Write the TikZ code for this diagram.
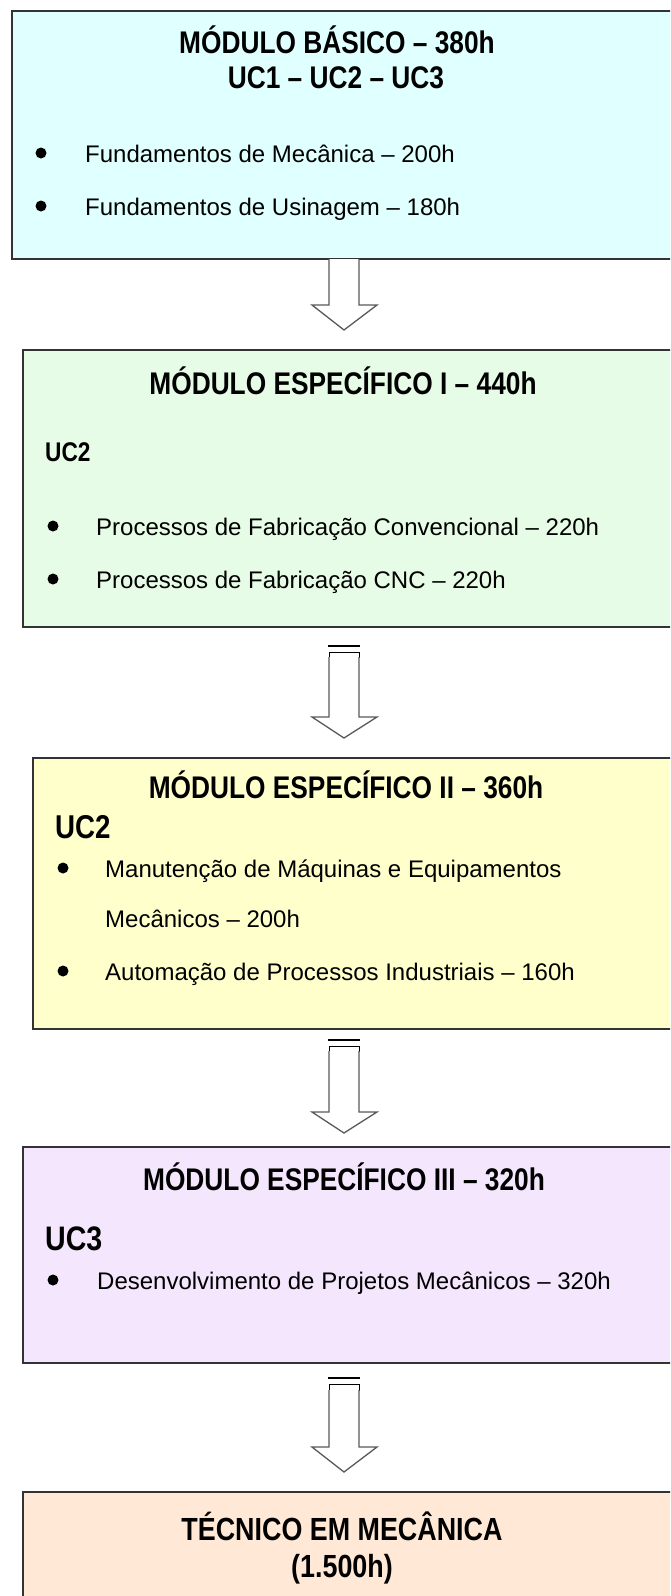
\documentclass[tikz,border=0pt]{standalone}
\usepackage{fontspec}
\setmainfont{Liberation Sans}
\newfontfamily\narrowfont{Liberation Sans}[FakeStretch=0.84]
\usetikzlibrary{calc}
\definecolor{cbasico}{HTML}{E0FFFF}
\definecolor{cespI}{HTML}{E6FCE6}
\definecolor{cespII}{HTML}{FFFFCC}
\definecolor{cespIII}{HTML}{F3E6FD}
\definecolor{ctecnico}{HTML}{FFE9D6}
\tikzset{modbox/.style={draw=black!80, line width=1.6pt, anchor=north west,
        inner sep=0pt},
    titulo/.style={anchor=base, inner sep=0pt,
        font=\narrowfont\bfseries\fontsize{31.3}{35}\selectfont},
    uc/.style={anchor=base west, inner sep=0pt, font=\narrowfont\bfseries},
    item/.style={anchor=base west, inner sep=0pt,
        font=\fontsize{24}{28}\selectfont},
    bul/.style={circle, fill=black, inner sep=0pt, minimum size=11pt},
    hollow/.style={draw=black!65, line width=1.3pt, fill=white},
    barra/.style={draw=black, line width=2.5pt}}

\begin{document}
\begin{tikzpicture}[x=1pt,y=-1pt]
    \useasboundingbox (0,0) rectangle (670,1596);
    \clip (0,0) rectangle (670,1596);
    % caixas
    \node[modbox, fill=cbasico, minimum width=680pt, minimum height=248pt]
        (basico) at (11,10) {};
    \node[modbox, fill=cespI, minimum width=680pt, minimum height=277pt]
        (espI) at (22,349) {};
    \node[modbox, fill=cespII, minimum width=680pt, minimum height=271pt]
        (espII) at (32,757) {};
    \node[modbox, fill=cespIII, minimum width=680pt, minimum height=216pt]
        (espIII) at (22,1146) {};
    \node[modbox, fill=ctecnico, minimum width=680pt, minimum height=200pt]
        (tecnico) at (22,1491) {};
    % modulo basico
    \node[titulo] (tbas) at (337,53) {MÓDULO BÁSICO – 380h};
    \node[titulo] (ucbas) at (336,88) {UC1 – UC2 – UC3};
    \node[bul] (b1) at (41,153) {};
    \node[item] (fmec) at (85,162) {Fundamentos de Mecânica – 200h};
    \node[bul] (b2) at (41,206) {};
    \node[item] (fusi) at (85,215) {Fundamentos de Usinagem – 180h};
    % especifico I
    \node[titulo] (tesp1) at (343,394) {MÓDULO ESPECÍFICO I – 440h};
    \node[uc, font=\narrowfont\bfseries\fontsize{27}{30}\selectfont]
        (uc2a) at (45,461) {UC2};
    \node[bul] (b3) at (53,526) {};
    \node[item] (pconv) at (96,535) {Processos de Fabricação Convencional – 220h};
    \node[bul] (b4) at (53,579) {};
    \node[item] (pcnc) at (96,588) {Processos de Fabricação CNC – 220h};
    % especifico II
    \node[titulo] (tesp2) at (346,798) {MÓDULO ESPECÍFICO II – 360h};
    \node[uc, font=\narrowfont\bfseries\fontsize{33}{36}\selectfont]
        (uc2b) at (55,838) {UC2};
    \node[bul] (b5) at (63,868) {};
    \node[item] (manut) at (105,877) {Manutenção de Máquinas e Equipamentos};
    \node[item] (manut2) at (105,927) {Mecânicos – 200h};
    \node[bul] (b6) at (63,971) {};
    \node[item] (autom) at (105,980) {Automação de Processos Industriais – 160h};
    % especifico III
    \node[titulo] (tesp3) at (344,1190) {MÓDULO ESPECÍFICO III – 320h};
    \node[uc, font=\narrowfont\bfseries\fontsize{34}{37}\selectfont]
        (uc3) at (45,1250) {UC3};
    \node[bul] (b7) at (53,1280) {};
    \node[item] (dproj) at (97,1289) {Desenvolvimento de Projetos Mecânicos – 320h};
    % tecnico
    \node[titulo, font=\narrowfont\bfseries\fontsize{32}{36}\selectfont]
        (ttec) at (342,1540) {TÉCNICO EM MECÂNICA};
    \node[titulo, font=\narrowfont\bfseries\fontsize{32}{36}\selectfont]
        (thoras) at (342,1577) {(1.500h)};
    % setas
    \coordinate (a1) at (344,259);
    \draw[hollow] ($(a1)+(-15,0)$) -- ++(0,46) -- ++(-17,0) -- ++(32,25)
        -- ++(33,-25) -- ++(-18,0) -- ++(0,-46);
    \draw[barra] (328,646) -- (360,646);
    \draw[black, line width=1pt, fill=white] (329,652) rectangle (359,657);
    \coordinate (a2) at (344,657);
    \draw[hollow] ($(a2)+(-15,0)$) -- ++(0,60) -- ++(-17,0) -- ++(32,21)
        -- ++(33,-21) -- ++(-18,0) -- ++(0,-60);
    \draw[barra] (328,1040) -- (360,1040);
    \draw[black, line width=1pt, fill=white] (329,1046) rectangle (359,1051);
    \coordinate (a3) at (344,1051);
    \draw[hollow] ($(a3)+(-15,0)$) -- ++(0,61) -- ++(-17,0) -- ++(32,21)
        -- ++(33,-21) -- ++(-18,0) -- ++(0,-61);
    \draw[barra] (328,1378) -- (360,1378);
    \draw[black, line width=1pt, fill=white] (329,1384) rectangle (359,1390);
    \coordinate (a4) at (344,1390);
    \draw[hollow] ($(a4)+(-15,0)$) -- ++(0,57) -- ++(-17,0) -- ++(32,25)
        -- ++(33,-25) -- ++(-18,0) -- ++(0,-57);
\end{tikzpicture}
\end{document}
